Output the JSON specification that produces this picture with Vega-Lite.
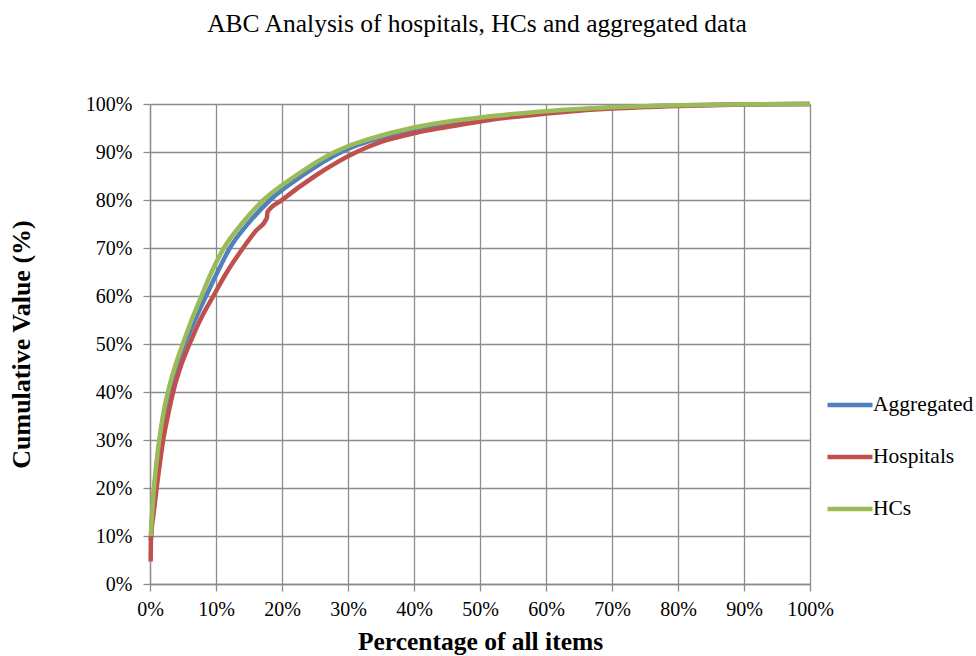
{
  "$schema": "https://vega.github.io/schema/vega-lite/v6.json",
  "autosize": {"type": "none"},
  "padding": {"left": 150, "top": 104, "right": 166, "bottom": 72},
  "width": 660,
  "height": 480,
  "background": "white",
  "title": {
    "text": "ABC Analysis of hospitals, HCs and aggregated data",
    "font": "Liberation Serif",
    "fontSize": 25.5,
    "fontWeight": "normal",
    "color": "black",
    "anchor": "middle",
    "offset": 57,
    "dx": -3
  },
  "config": {
    "view": {"stroke": null}
  },
  "data": {
    "values": [
      {"series": "Aggregated", "x": 0.12, "y": 9},
      {"series": "Aggregated", "x": 0.3, "y": 13.5},
      {"series": "Aggregated", "x": 0.6, "y": 19},
      {"series": "Aggregated", "x": 1.0, "y": 24.5},
      {"series": "Aggregated", "x": 1.4, "y": 29},
      {"series": "Aggregated", "x": 2.0, "y": 34.4},
      {"series": "Aggregated", "x": 3.0, "y": 40.5},
      {"series": "Aggregated", "x": 4.0, "y": 45.3},
      {"series": "Aggregated", "x": 5.3, "y": 50},
      {"series": "Aggregated", "x": 6.9, "y": 55.3},
      {"series": "Aggregated", "x": 8.6, "y": 60.3},
      {"series": "Aggregated", "x": 10.3, "y": 65.2},
      {"series": "Aggregated", "x": 12.1, "y": 70},
      {"series": "Aggregated", "x": 15, "y": 75.3},
      {"series": "Aggregated", "x": 18.2, "y": 80},
      {"series": "Aggregated", "x": 23, "y": 85},
      {"series": "Aggregated", "x": 29, "y": 90},
      {"series": "Aggregated", "x": 31, "y": 91.2},
      {"series": "Aggregated", "x": 34, "y": 92.6},
      {"series": "Aggregated", "x": 40, "y": 94.8},
      {"series": "Aggregated", "x": 45, "y": 96.0},
      {"series": "Aggregated", "x": 50, "y": 97.0},
      {"series": "Aggregated", "x": 55, "y": 97.75},
      {"series": "Aggregated", "x": 60, "y": 98.35},
      {"series": "Aggregated", "x": 65, "y": 98.85},
      {"series": "Aggregated", "x": 70, "y": 99.25},
      {"series": "Aggregated", "x": 80, "y": 99.7},
      {"series": "Aggregated", "x": 90, "y": 99.93},
      {"series": "Aggregated", "x": 100, "y": 100},
      {"series": "Hospitals", "x": 0.1, "y": 4.7},
      {"series": "Hospitals", "x": 0.15, "y": 9.6},
      {"series": "Hospitals", "x": 0.5, "y": 14.2},
      {"series": "Hospitals", "x": 1.0, "y": 20},
      {"series": "Hospitals", "x": 1.5, "y": 25.2},
      {"series": "Hospitals", "x": 2.0, "y": 30},
      {"series": "Hospitals", "x": 2.7, "y": 35},
      {"series": "Hospitals", "x": 3.6, "y": 40.5},
      {"series": "Hospitals", "x": 4.7, "y": 45.5},
      {"series": "Hospitals", "x": 6.0, "y": 50},
      {"series": "Hospitals", "x": 7.6, "y": 55},
      {"series": "Hospitals", "x": 9.6, "y": 60},
      {"series": "Hospitals", "x": 11.7, "y": 65.1},
      {"series": "Hospitals", "x": 14.1, "y": 70},
      {"series": "Hospitals", "x": 16, "y": 73.5},
      {"series": "Hospitals", "x": 17.7, "y": 76.2},
      {"series": "Hospitals", "x": 17.8, "y": 77.5},
      {"series": "Hospitals", "x": 20, "y": 80},
      {"series": "Hospitals", "x": 25, "y": 85},
      {"series": "Hospitals", "x": 31.3, "y": 90},
      {"series": "Hospitals", "x": 35, "y": 92.1},
      {"series": "Hospitals", "x": 40, "y": 93.9},
      {"series": "Hospitals", "x": 45, "y": 95.2},
      {"series": "Hospitals", "x": 50, "y": 96.35},
      {"series": "Hospitals", "x": 55, "y": 97.3},
      {"series": "Hospitals", "x": 60, "y": 98.0},
      {"series": "Hospitals", "x": 65, "y": 98.6},
      {"series": "Hospitals", "x": 70, "y": 99.05},
      {"series": "Hospitals", "x": 80, "y": 99.6},
      {"series": "Hospitals", "x": 90, "y": 99.9},
      {"series": "Hospitals", "x": 100, "y": 100},
      {"series": "HCs", "x": 0.12, "y": 10},
      {"series": "HCs", "x": 0.3, "y": 14.5},
      {"series": "HCs", "x": 0.6, "y": 20},
      {"series": "HCs", "x": 1.0, "y": 25.5},
      {"series": "HCs", "x": 1.4, "y": 30},
      {"series": "HCs", "x": 2.0, "y": 35.4},
      {"series": "HCs", "x": 2.9, "y": 41},
      {"series": "HCs", "x": 4.0, "y": 46.2},
      {"series": "HCs", "x": 5.05, "y": 50.3},
      {"series": "HCs", "x": 6.3, "y": 55},
      {"series": "HCs", "x": 7.8, "y": 60},
      {"series": "HCs", "x": 9.3, "y": 64.9},
      {"series": "HCs", "x": 11.2, "y": 70},
      {"series": "HCs", "x": 14, "y": 75.2},
      {"series": "HCs", "x": 17.2, "y": 80},
      {"series": "HCs", "x": 22, "y": 85},
      {"series": "HCs", "x": 28, "y": 90},
      {"series": "HCs", "x": 30, "y": 91.2},
      {"series": "HCs", "x": 33, "y": 92.6},
      {"series": "HCs", "x": 40, "y": 95.1},
      {"series": "HCs", "x": 45, "y": 96.3},
      {"series": "HCs", "x": 50, "y": 97.2},
      {"series": "HCs", "x": 55, "y": 97.9},
      {"series": "HCs", "x": 60, "y": 98.5},
      {"series": "HCs", "x": 65, "y": 98.95},
      {"series": "HCs", "x": 70, "y": 99.3},
      {"series": "HCs", "x": 80, "y": 99.75},
      {"series": "HCs", "x": 90, "y": 99.95},
      {"series": "HCs", "x": 100, "y": 100}
    ]
  },
  "mark": {"type": "line", "strokeWidth": 4.5, "interpolate": "monotone"},
  "encoding": {
    "x": {
      "field": "x",
      "type": "quantitative",
      "scale": {"domain": [0, 100], "nice": false},
      "axis": {
        "title": "Percentage of all items",
        "values": [0, 10, 20, 30, 40, 50, 60, 70, 80, 90, 100],
        "labelExpr": "datum.value + '%'",
        "labelFlush": false,
        "labelFont": "Liberation Serif",
        "labelFontSize": 20,
        "labelColor": "black",
        "labelPadding": 8,
        "tickSize": 7,
        "grid": true,
        "gridColor": "#8c8c8c",
        "gridWidth": 1.3,
        "domainColor": "#8c8c8c",
        "domainWidth": 1.3,
        "tickColor": "#8c8c8c",
        "tickWidth": 1.3,
        "titleFont": "Liberation Serif",
        "titleFontSize": 25.5,
        "titleFontWeight": "bold",
        "titleColor": "black",
        "titlePadding": 10
      }
    },
    "y": {
      "field": "y",
      "type": "quantitative",
      "scale": {"domain": [0, 100], "nice": false},
      "axis": {
        "title": "Cumulative Value (%)",
        "values": [0, 10, 20, 30, 40, 50, 60, 70, 80, 90, 100],
        "labelExpr": "datum.value + '%'",
        "labelFont": "Liberation Serif",
        "labelFontSize": 20,
        "labelColor": "black",
        "labelPadding": 11,
        "tickSize": 7,
        "grid": true,
        "gridColor": "#8c8c8c",
        "gridWidth": 1.3,
        "domainColor": "#8c8c8c",
        "domainWidth": 1.3,
        "tickColor": "#8c8c8c",
        "tickWidth": 1.3,
        "titleFont": "Liberation Serif",
        "titleFontSize": 26,
        "titleFontWeight": "bold",
        "titleColor": "black",
        "titlePadding": 51
      }
    },
    "color": {
      "field": "series",
      "type": "nominal",
      "sort": ["Aggregated", "Hospitals", "HCs"],
      "scale": {
        "domain": ["Aggregated", "Hospitals", "HCs"],
        "range": ["#4F81BD", "#C0504D", "#9BBB59"]
      },
      "legend": {
        "orient": "none",
        "legendX": 675,
        "legendY": 276,
        "title": null,
        "symbolType": "stroke",
        "symbolSize": 2025,
        "symbolStrokeWidth": 4.5,
        "labelFont": "Liberation Serif",
        "labelFontSize": 21.5,
        "labelColor": "black",
        "labelOffset": -2,
        "rowPadding": 16
      }
    }
  }
}
